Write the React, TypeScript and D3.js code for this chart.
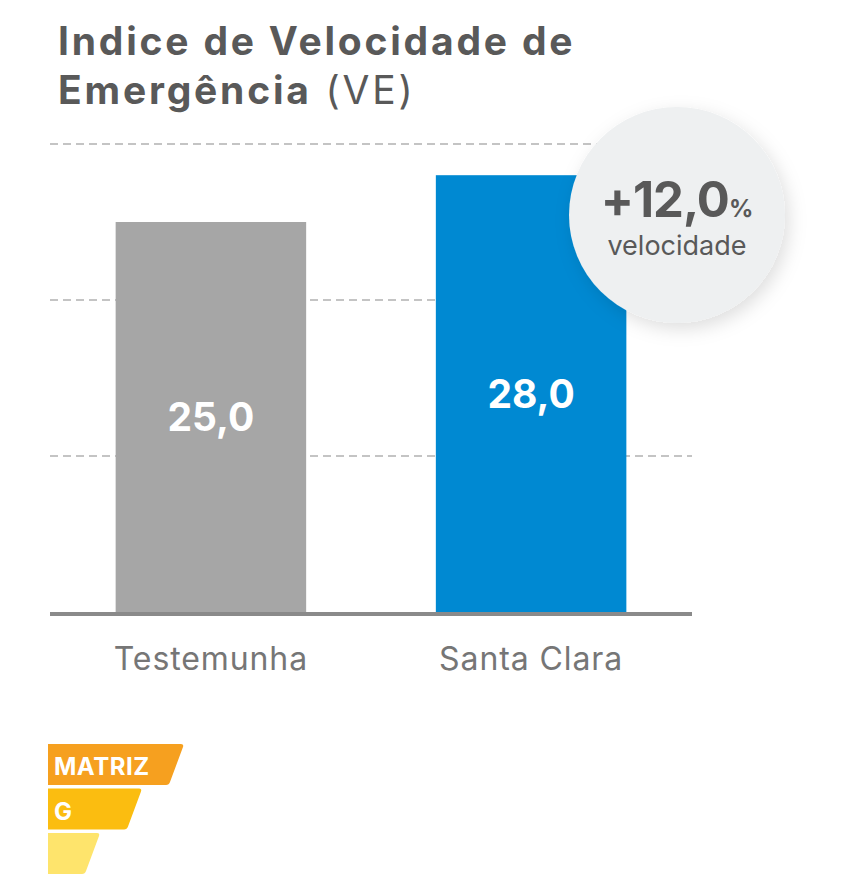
import React from "react";
import * as d3 from "d3";

const categories = ["Testemunha", "Santa Clara"];
const values = [25.0, 28.0];
const barColors = ["#a6a6a6", "#0089d2"];
const gridTicks = [10, 20, 30];
const gainPercent = 12.0;
const gainLabel = "velocidade";
const titleLine1 = "Indice de Velocidade de";
const titleLine2Bold = "Emergência";
const titleLine2Light = "(VE)";
const logoRows = [
  { label: "MATRIZ", color: "#f6a01f" },
  { label: "G", color: "#fbbd10" },
  { label: "", color: "#fee46c" },
];

const width = 852;
const height = 880;
const margin = { left: 50, right: 160, top: 144, bottom: 268 };
const FONT = "Inter, 'Noto Sans', sans-serif";
const TEXT = "#595959";

const locale = d3.formatLocale({ decimal: ",", thousands: ".", grouping: [3], currency: ["R$", ""] });
const fmt = locale.format(".1f");

const App: React.FC = () => {
  const x = d3
    .scaleBand<string>()
    .domain(categories)
    .range([margin.left, width - margin.right])
    .paddingInner(0.405)
    .paddingOuter(0.205);
  const y = d3
    .scaleLinear()
    .domain([0, 30])
    .range([height - margin.bottom, margin.top]);

  const cx = 677;
  const cy = 215;
  const r = 108;

  return (
    <svg
      width={width}
      height={height}
      style={{ position: "absolute", left: 0, top: 0, background: "#fff" }}
      fontFamily={FONT}
    >
      <defs>
        <filter id="shadow" x="-30%" y="-30%" width="160%" height="160%">
          <feDropShadow dx="4" dy="6" stdDeviation="9" floodColor="#000" floodOpacity="0.13" />
        </filter>
      </defs>

      {/* title */}
      <text x={58} y={55} fontSize={39} fontWeight={700} fill={TEXT} letterSpacing={2.8}>
        {titleLine1}
      </text>
      <text x={58} y={104} fontSize={39} fill={TEXT} letterSpacing={2.8}>
        <tspan fontWeight={700}>{titleLine2Bold}</tspan>
        <tspan fontWeight={400}> {titleLine2Light}</tspan>
      </text>

      {/* grid */}
      {gridTicks.map(t => (
        <line
          key={t}
          x1={margin.left}
          x2={width - margin.right}
          y1={y(t)}
          y2={y(t)}
          stroke="#c4c4c4"
          strokeWidth={2}
          strokeDasharray="8 5"
        />
      ))}

      {/* bars */}
      {categories.map((c, i) => (
        <g key={c}>
          <rect
            x={x(c)}
            y={y(values[i])}
            width={x.bandwidth()}
            height={y(0) - y(values[i])}
            fill={barColors[i]}
          />
          <text
            x={(x(c) ?? 0) + x.bandwidth() / 2}
            y={(y(values[i]) + y(0)) / 2 + 14}
            textAnchor="middle"
            fontSize={39}
            fontWeight={700}
            fill="#fff"
          >
            {fmt(values[i])}
          </text>
          <text
            x={(x(c) ?? 0) + x.bandwidth() / 2}
            y={670}
            textAnchor="middle"
            fontSize={32}
            letterSpacing={0.9}
            fill="#767676"
          >
            {c}
          </text>
        </g>
      ))}

      {/* baseline */}
      <line
        x1={margin.left}
        x2={width - margin.right}
        y1={y(0) + 2}
        y2={y(0) + 2}
        stroke="#8a8a8a"
        strokeWidth={4}
      />

      {/* callout */}
      <circle cx={cx} cy={cy} r={r} fill="#eef0f1" filter="url(#shadow)" />
      <text x={cx} y={217} textAnchor="middle" fill={TEXT} fontWeight={700}>
        <tspan fontSize={49} letterSpacing={-1}>+{fmt(gainPercent)}</tspan>
        <tspan fontSize={24}>%</tspan>
      </text>
      <text x={cx} y={255} textAnchor="middle" fill={TEXT} fontSize={27}>
        {gainLabel}
      </text>

      {/* logo */}
      {logoRows.map((row, i) => {
        const top = 744 + i * 44.5;
        const h = 41;
        const right = 183 - i * 42;
        const left = 48;
        const slant = 14;
        const p = d3.path();
        p.moveTo(left, top);
        p.lineTo(right - 2, top);
        p.quadraticCurveTo(right + 1, top, right, top + 3);
        p.lineTo(right - slant + 1, top + h - 3);
        p.quadraticCurveTo(right - slant, top + h, right - slant - 3, top + h);
        p.lineTo(left, top + h);
        p.closePath();
        return (
          <g key={i}>
            <path d={p.toString()} fill={row.color} />
            {row.label && (
              <text x={54} y={top + 31} fontSize={24} fontWeight={700} fill="#fff" letterSpacing={0.5}>
                {row.label}
              </text>
            )}
          </g>
        );
      })}
    </svg>
  );
};

export default App;
